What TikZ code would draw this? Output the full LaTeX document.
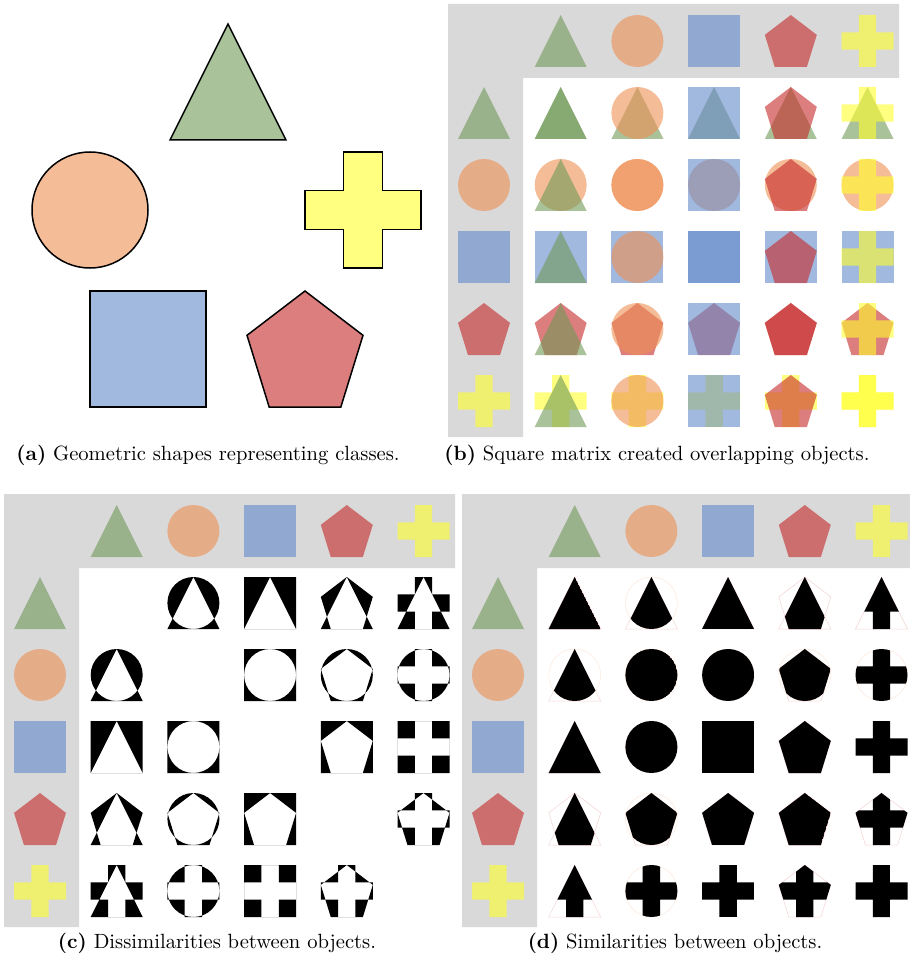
\documentclass[tikz,border=0pt]{standalone}
\usepackage{tikz}
\usetikzlibrary{positioning}

% class colours: strong tints (used with opacity) and light fills
\definecolor{shpgreen}{HTML}{709957}
\definecolor{shporange}{HTML}{EE8F53}
\definecolor{shpblue}{HTML}{6289CA}
\definecolor{shpred}{HTML}{C62828}
\definecolor{shpyellow}{HTML}{FFFF2B}
\definecolor{lgtgreen}{HTML}{A9C29A}
\definecolor{lgtorange}{HTML}{F5BC98}
\definecolor{lgtblue}{HTML}{A1B8DF}
\definecolor{lgtred}{HTML}{DD7E7E}
\definecolor{lgtyellow}{HTML}{FFFF80}
\definecolor{bandgray}{HTML}{D9D9D9}

% unit shapes (y points down)
\newcommand{\shpA}{(-1,1) -- (0,-1) -- (1,1) -- cycle}
\newcommand{\shpB}{(0,0) circle[radius=1]}
\newcommand{\shpC}{(-1,-1) rectangle (1,1)}
\newcommand{\shpD}{(0,-1) -- (1,-0.236) -- (0.618,1) -- (-0.618,1) -- (-1,-0.236) -- cycle}
\newcommand{\shpE}{(-1/3,-1) -- (1/3,-1) -- (1/3,-1/3) -- (1,-1/3) -- (1,1/3) -- (1/3,1/3)
  -- (1/3,1) -- (-1/3,1) -- (-1/3,1/3) -- (-1,1/3) -- (-1,-1/3) -- (-1/3,-1/3) -- cycle}
% letter / tint / faint edge colour
\newcommand{\classlist}{A/shpgreen/lgtred, B/shporange/lgtorange, C/shpblue/white,
  D/shpred/lgtred, E/shpyellow/white}

% grey band with the row and column headers
\newcommand{\headband}[2]{%
  \fill[bandgray] (#1-36,#2-37) -- (#1+415,#2-37) -- (#1+415,#2+37)
    -- (#1+39,#2+37) -- (#1+39,#2+396) -- (#1-36,#2+396) -- cycle;
  \foreach \s/\hc/\gc [count=\k] in \classlist {
    \expandafter\let\expandafter\thisshp\csname shp\s\endcsname
    \fill[tint=\hc, shift={(#1+76.7*\k,#2)}, scale=26] \thisshp;
    \fill[tint=\hc, shift={(#1,#2+72*\k)}, scale=26] \thisshp;
  }%
}

\begin{document}
\begin{tikzpicture}[x=0.5pt, y=-0.5pt,
    classline/.style={draw=black, line width=0.75pt},
    tint/.style={fill=#1, fill opacity=0.6},
    ghost/.style={draw=#1, draw opacity=0.35, line width=0.25pt},
    capnode/.style={inner sep=0pt, font=\fontsize{10.3}{12}\selectfont}]
  \useasboundingbox (0,0) rectangle (909,957);

  % (a) the five classes
  \foreach \s/\hc/\px/\py in {A/lgtgreen/228/82, B/lgtorange/90/210, E/lgtyellow/363/210,
      C/lgtblue/148/349, D/lgtred/305/349} {
    \expandafter\let\expandafter\thisshp\csname shp\s\endcsname
    \filldraw[classline, fill=\hc, shift={(\px,\py)}, scale=58] \thisshp;
  }
  \node[capnode] (capa) at (208,455) {\textbf{(a)} Geometric shapes representing classes.};

  % (b) overlapping objects
  \headband{484}{41}
  \foreach \r/\rc/\rg [count=\i] in \classlist {
    \expandafter\let\expandafter\rowshp\csname shp\r\endcsname
    \foreach \s/\sc/\sg [count=\j] in \classlist {
      \expandafter\let\expandafter\colshp\csname shp\s\endcsname
      \fill[tint=\rc, shift={(484+76.7*\j,41+72*\i)}, scale=26] \rowshp;
      \fill[tint=\sc, shift={(484+76.7*\j,41+72*\i)}, scale=26] \colshp;
    }
  }
  \node[capnode] (capb) at (657,455) {\textbf{(b)} Square matrix created overlapping objects.};

  % (c) dissimilarities: xor of the two shapes
  \headband{40}{531}
  \foreach \r/\rc/\rg [count=\i] in \classlist {
    \expandafter\let\expandafter\rowshp\csname shp\r\endcsname
    \foreach \s/\sc/\sg [count=\j] in \classlist {
      \expandafter\let\expandafter\colshp\csname shp\s\endcsname
      \ifnum\i=\j\else
        \fill[black, even odd rule, shift={(40+76.7*\j,531+72*\i)}, scale=26] \rowshp \colshp;
      \fi
    }
  }
  \node[capnode] (capc) at (217,943) {\textbf{(c)} Dissimilarities between objects.};

  % (d) similarities: intersection of the two shapes
  \headband{498}{531}
  \foreach \r/\rc/\rg [count=\i] in \classlist {
    \expandafter\let\expandafter\rowshp\csname shp\r\endcsname
    \foreach \s/\sc/\sg [count=\j] in \classlist {
      \expandafter\let\expandafter\colshp\csname shp\s\endcsname
      \begin{scope}[shift={(498+76.7*\j,531+72*\i)}, scale=26]
        \draw[ghost=\rg] \rowshp;
        \draw[ghost=\sg] \colshp;
        \clip \rowshp;
        \fill[black] \colshp;
      \end{scope}
    }
  }
  \node[capnode] (capd) at (675,943) {\textbf{(d)} Similarities between objects.};
\end{tikzpicture}
\end{document}
